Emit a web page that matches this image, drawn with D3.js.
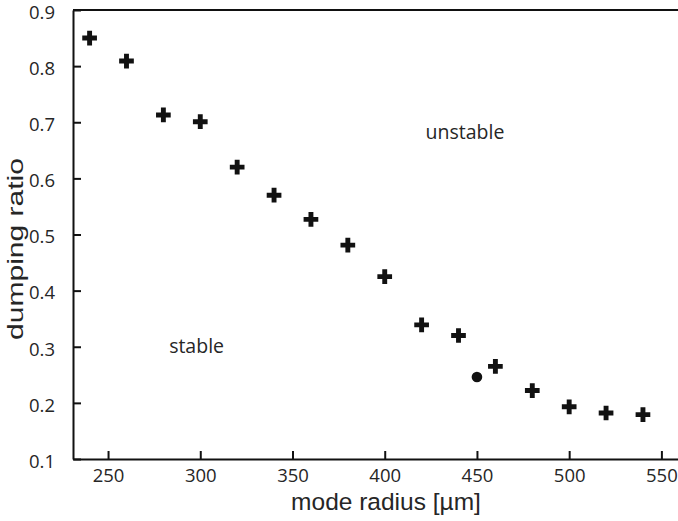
<!DOCTYPE html>
<head>
    <script src="https://d3js.org/d3.v7.min.js"></script>
    <style>
        body { margin: 0; background: #fff; }
        svg { display: block; }
    </style>
</head>
<body>
    <script>
        // data
        const radius = [240, 260, 280, 300, 320, 340, 360, 380, 400, 420, 440, 460, 480, 500, 520, 540];
        const ratio = [0.850, 0.809, 0.713, 0.701, 0.620, 0.570, 0.527, 0.481, 0.425, 0.339, 0.320, 0.265, 0.222, 0.193, 0.182, 0.179];
        const dotRadius = [450];
        const dotRatio = [0.246];
        const xTicks = [250, 300, 350, 400, 450, 500, 550];
        const yTicks = [0.1, 0.2, 0.3, 0.4, 0.5, 0.6, 0.7, 0.8, 0.9];

        const svg = d3.select("body")
            .append("svg")
            .attr("width", 678)
            .attr("height", 521);

        const margin = { top: 10, bottom: 62, left: 73, right: 0 };
        const width = 678 - margin.left - margin.right;
        const height = 521 - margin.top - margin.bottom;

        const chart = svg.append("g")
            .attr("transform", `translate(${margin.left},${margin.top})`);

        // scales
        const xScale = d3.scaleLinear().domain([231, 559]).range([0, width]);
        const yScale = d3.scaleLinear().domain([0.1, 0.9]).range([height, 0]);

        // top border
        chart.append("line")
            .attr("x1", 0).attr("x2", width)
            .attr("y1", 0).attr("y2", 0)
            .attr("stroke", "#111")
            .attr("stroke-width", 2);

        // x axis, ticks pointing inside
        const xAxis = chart.append("g")
            .attr("transform", `translate(0,${height})`)
            .call(d3.axisBottom(xScale).tickValues(xTicks).tickSizeInner(-8).tickSizeOuter(0).tickPadding(10));

        // y axis
        const yAxis = chart.append("g")
            .call(d3.axisLeft(yScale).tickValues(yTicks).tickFormat(d3.format(".1f")).tickSizeInner(-8).tickSizeOuter(0).tickPadding(18));

        [xAxis, yAxis].forEach(a => {
            a.select(".domain").attr("stroke", "#111").attr("stroke-width", 2);
            a.selectAll(".tick line").attr("stroke", "#111").attr("stroke-width", 2);
            a.selectAll(".tick text")
                .attr("fill", "#262626")
                .style("font-family", "'Open Sans', sans-serif")
                .style("font-size", "18.5px");
        });
        yAxis.selectAll(".tick text").attr("dy", "0.45em");

        // crosses
        const cross = d3.symbol().type(d3.symbolCross).size(120);
        chart.selectAll(".pt")
            .data(radius.map((r, i) => ({ r: r, v: ratio[i] })))
            .join("path")
            .attr("class", "pt")
            .attr("transform", d => `translate(${xScale(d.r)},${yScale(d.v)})`)
            .attr("d", cross)
            .attr("fill", "#111");

        // single dot
        chart.selectAll(".dot")
            .data(dotRadius.map((r, i) => ({ r: r, v: dotRatio[i] })))
            .join("circle")
            .attr("class", "dot")
            .attr("cx", d => xScale(d.r))
            .attr("cy", d => yScale(d.v))
            .attr("r", 5.3)
            .attr("fill", "#111");

        // region labels
        chart.append("text")
            .attr("x", xScale(443.5))
            .attr("y", yScale(0.671))
            .attr("text-anchor", "middle")
            .attr("fill", "#262626")
            .style("font-family", "'Open Sans', sans-serif")
            .style("font-size", "19.5px")
            .text("unstable");

        chart.append("text")
            .attr("x", xScale(298))
            .attr("y", yScale(0.289))
            .attr("text-anchor", "middle")
            .attr("fill", "#262626")
            .style("font-family", "'Open Sans', sans-serif")
            .style("font-size", "19.5px")
            .text("stable");

        // axis titles
        svg.append("text")
            .attr("x", 386)
            .attr("y", 510)
            .attr("text-anchor", "middle")
            .attr("fill", "#262626")
            .style("font-family", "'Liberation Sans', Arial, sans-serif")
            .style("font-size", "24.5px")
            .text("mode radius [µm]");

        svg.append("text")
            .attr("transform", "translate(23,249) rotate(-90)")
            .attr("text-anchor", "middle")
            .attr("fill", "#262626")
            .attr("textLength", 182)
            .attr("lengthAdjust", "spacingAndGlyphs")
            .style("font-family", "'Liberation Sans', Arial, sans-serif")
            .style("font-size", "22px")
            .text("dumping ratio");
    </script>
</body>
